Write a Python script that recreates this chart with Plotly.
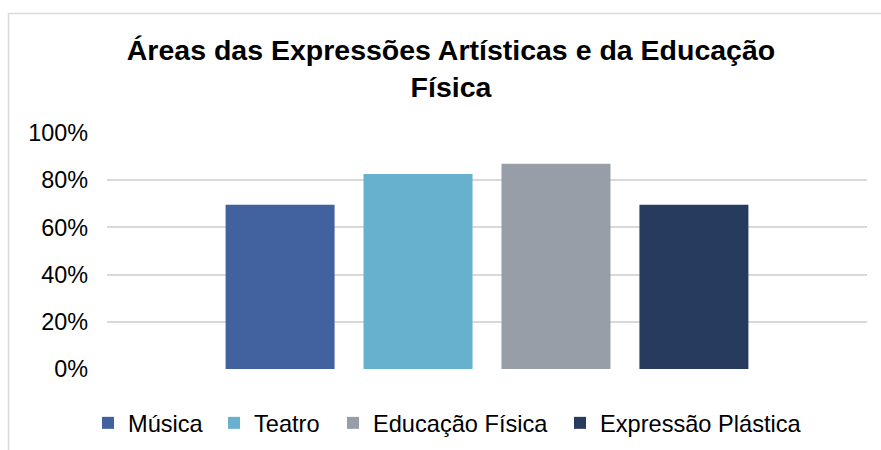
import plotly.graph_objects as go

categories = [""]
series_names = ["Música", "Teatro", "Educação Física", "Expressão Plástica"]
series_values = [0.696, 0.826, 0.870, 0.696]
series_colors = ["#41619F", "#67B0CE", "#979EA8", "#263B5D"]
legend_widths = [81, 74, 182, 205]
y_ticks = [0, 0.2, 0.4, 0.6, 0.8, 1.0]
y_tick_labels = ["0%", "20%", "40%", "60%", "80%", "100%"]

W, H = 881, 450
L, R, T, B = 107, 14, 133, 81
FONT = "Liberation Sans, Arial, sans-serif"

fig = go.Figure()
for name, val, col, lw in zip(series_names, series_values, series_colors, legend_widths):
    fig.add_trace(go.Bar(name=name, x=categories, y=[val], legendwidth=lw,
                         marker=dict(color=col, line=dict(width=0))))

pw = W - L - R
ph = H - T - B
def px_x(x):
    return (x - L) / pw
def px_y(y):
    return (H - B - y) / ph

fig.update_layout(
    width=W, height=H,
    margin=dict(l=L, r=R, t=T, b=B),
    paper_bgcolor="white", plot_bgcolor="white",
    barmode="group", bargap=0.274, bargroupgap=0.21,
    title=dict(
        text="<b>Áreas das Expressões Artísticas e da Educação<br>Física</b>",
        font=dict(family=FONT, size=28.5, color="#000000"),
        x=451 / W, xref="container", xanchor="center",
        y=1 - 60 / H, yref="container", yanchor="top",
    ),
    showlegend=True,
    legend=dict(
        orientation="h", xref="container", yref="container",
        x=88 / W, xanchor="left", y=1 - 423 / H, yanchor="middle",
        font=dict(family=FONT, size=23.6, color="#000000"),
        bgcolor="rgba(0,0,0,0)", borderwidth=0,
    ),
    xaxis=dict(showticklabels=False, showgrid=False, zeroline=False, showline=False, ticks=""),
    yaxis=dict(
        range=[0, 1], tickvals=y_ticks, ticktext=y_tick_labels,
        showgrid=True, gridcolor="#D9D9D9", gridwidth=1.5,
        zeroline=False, showline=False, ticks="",
        ticklabelstandoff=18,
        tickfont=dict(family=FONT, size=23.4, color="#000000"),
    ),
    font=dict(family=FONT),
    shapes=[
        dict(type="line", xref="paper", yref="paper", x0=px_x(8.5), x1=px_x(W + 10), y0=px_y(13.5), y1=px_y(13.5),
             line=dict(color="#D9D9D9", width=1.5)),
        dict(type="line", xref="paper", yref="paper", x0=px_x(8.5), x1=px_x(8.5), y0=px_y(13.5), y1=px_y(H + 10),
             line=dict(color="#D9D9D9", width=1.5)),
    ],
)

fig.write_html("out.html", config={"displayModeBar": False},
               post_script="document.body.style.margin='0';document.body.style.overflow='hidden';")
